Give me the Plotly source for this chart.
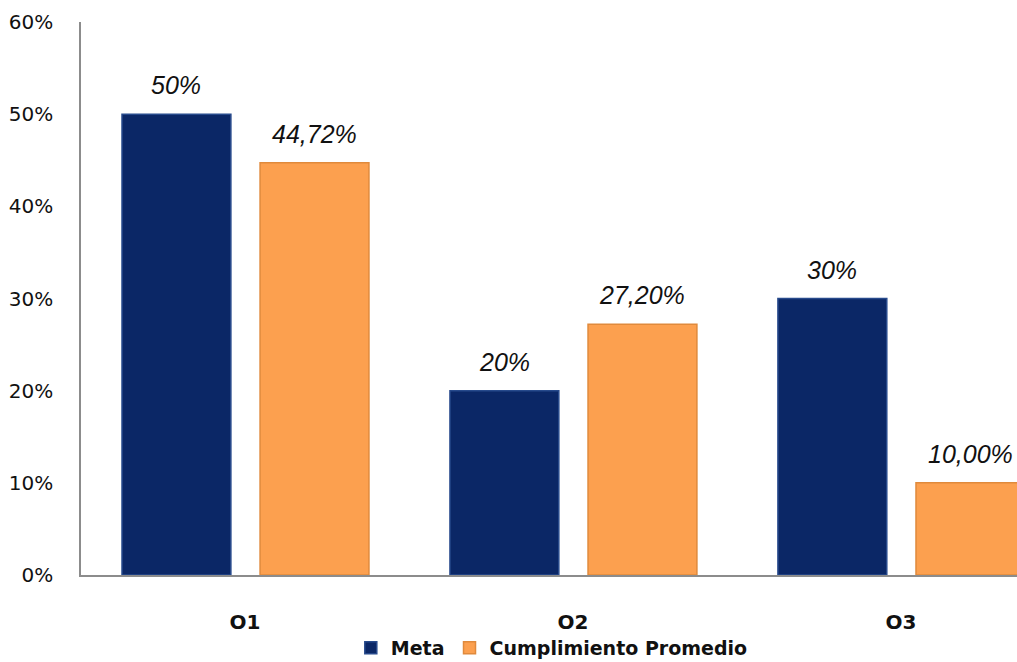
import plotly.graph_objects as go

categories = ["O1", "O2", "O3"]
meta = [0.50, 0.20, 0.30]
cumplimiento = [0.4472, 0.2720, 0.1000]
meta_labels = ["50%", "20%", "30%"]
cump_labels = ["44,72%", "27,20%", "10,00%"]
series_names = ["Meta", "Cumplimiento Promedio"]
y_ticks = [0, 0.1, 0.2, 0.3, 0.4, 0.5, 0.6]
y_tick_labels = ["0%", "10%", "20%", "30%", "40%", "50%", "60%"]

META_COLOR = "#0b2766"
META_LINE = "#274a8c"
CUMP_COLOR = "#fca04f"
CUMP_LINE = "#e08a3c"

BAR_W = 0.332
OFF_META = -0.375
OFF_CUMP = 0.046

fig = go.Figure()
fig.add_trace(go.Bar(
    name=series_names[0], x=categories, y=meta,
    width=BAR_W, offset=OFF_META,
    marker=dict(color=META_COLOR, line=dict(color=META_LINE, width=1.5)),
))
fig.add_trace(go.Bar(
    name=series_names[1], x=categories, y=cumplimiento,
    width=BAR_W, offset=OFF_CUMP,
    marker=dict(color=CUMP_COLOR, line=dict(color=CUMP_LINE, width=1.5)),
))

label_font = dict(family="Liberation Sans", size=25, color="#111111")
annotations = []
for vals, labels, off in ((meta, meta_labels, OFF_META), (cumplimiento, cump_labels, OFF_CUMP)):
    for i, (v, t) in enumerate(zip(vals, labels)):
        annotations.append(dict(x=i + off + BAR_W / 2, y=v, xref="x", yref="y",
                                text="<i>" + t + "</i>", showarrow=False,
                                yanchor="bottom", yshift=13, font=label_font))

fig.update_layout(
    width=1017, height=662,
    margin=dict(l=81, r=0, t=22, b=87, autoexpand=False),
    plot_bgcolor="white", paper_bgcolor="white",
    barmode="overlay",
    annotations=annotations,
    showlegend=True,
    legend=dict(orientation="h", x=0.503, xanchor="center", y=-0.132, yanchor="middle",
                font=dict(family="DejaVu Sans", size=19, color="#111111", weight="bold"),
                itemwidth=30, tracegroupgap=0),
    xaxis=dict(
        type="category", range=[-0.5, 2.354], automargin=False,
        showgrid=False, zeroline=False,
        showline=True, linecolor="#8c8c8c", linewidth=1.5,
        ticks="", ticklabelstandoff=28,
        tickfont=dict(family="DejaVu Sans", size=20, color="#111111", weight="bold"),
    ),
    yaxis=dict(
        range=[0, 0.6], tickvals=y_ticks, ticktext=y_tick_labels, automargin=False,
        showgrid=False, zeroline=False,
        showline=True, linecolor="#8c8c8c", linewidth=1.5,
        ticks="", ticklabelstandoff=22,
        tickfont=dict(family="DejaVu Sans", size=20, color="#111111"),
    ),
)

fig.write_html(
    "out.html",
    config={"displayModeBar": False},
    post_script="document.body.style.margin='0';document.documentElement.style.overflow='hidden';",
)
